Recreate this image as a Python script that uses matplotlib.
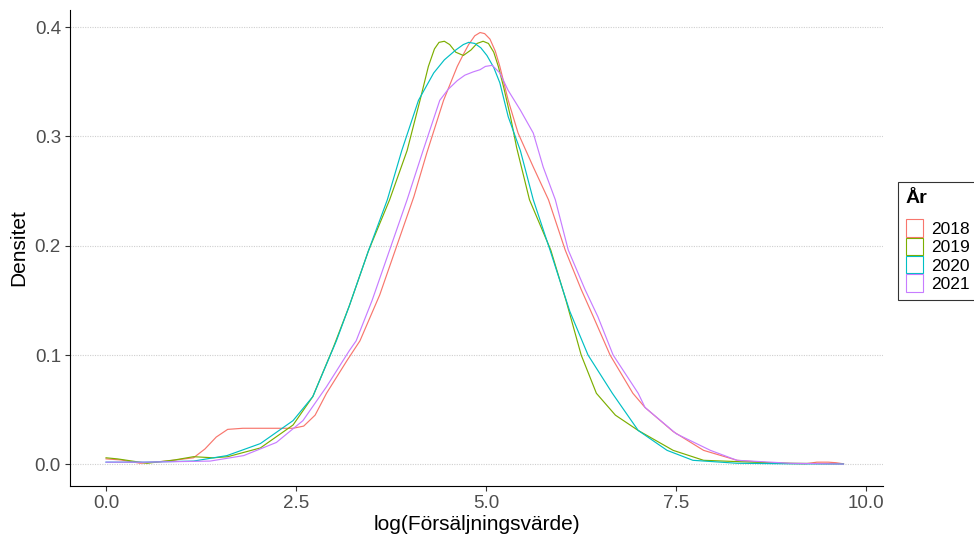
from matplotlib import pyplot as plt
from matplotlib.patches import Patch

plt.rcParams['font.family'] = ['Liberation Sans', 'DejaVu Sans']

years = ["2018", "2019", "2020", "2021"]
colors = ["#F8766D", "#7CAE00", "#00BFC4", "#C77CFF"]

# density curves (x = log value, y = density)
x_2018 = [0.0, 0.2, 0.45, 0.8, 1.15, 1.3, 1.45, 1.6, 1.8, 2.1, 2.46, 2.6, 2.75, 2.9, 3.17, 3.34, 3.6, 3.85,
          4.05, 4.22, 4.44, 4.62, 4.7, 4.77, 4.85, 4.92, 4.98, 5.05, 5.12, 5.18, 5.29, 5.42, 5.62, 5.82, 6.04,
          6.25, 6.41, 6.63, 6.93, 7.09, 7.46, 7.86, 8.3, 8.8, 9.2, 9.35, 9.5, 9.6, 9.7]
y_2018 = [0.005, 0.004, 0.001, 0.003, 0.006, 0.014, 0.025, 0.032, 0.033, 0.033, 0.033, 0.035, 0.045, 0.065,
          0.095, 0.113, 0.155, 0.205, 0.245, 0.285, 0.333, 0.364, 0.375, 0.384, 0.392, 0.395, 0.394, 0.389,
          0.378, 0.364, 0.333, 0.303, 0.272, 0.242, 0.196, 0.16, 0.135, 0.10, 0.065, 0.052, 0.03, 0.0128,
          0.0037, 0.001, 0.0005, 0.002, 0.002, 0.0015, 0.0005]

x_2019 = [0.0, 0.15, 0.54, 0.9, 1.15, 1.41, 1.6, 2.03, 2.46, 2.72, 2.99, 3.2, 3.45, 3.73, 3.96, 4.13, 4.24,
          4.32, 4.38, 4.45, 4.52, 4.6, 4.7, 4.8, 4.88, 4.96, 5.03, 5.1, 5.16, 5.23, 5.32, 5.40, 5.57, 5.85,
          6.05, 6.25, 6.45, 6.7, 7.0, 7.46, 7.86, 8.5, 9.0, 9.7]
y_2019 = [0.006, 0.005, 0.001, 0.004, 0.007, 0.006, 0.007, 0.015, 0.036, 0.062, 0.107, 0.145, 0.195, 0.242,
          0.287, 0.333, 0.364, 0.38, 0.386, 0.387, 0.384, 0.377, 0.374, 0.379, 0.385, 0.387, 0.385, 0.377,
          0.364, 0.345, 0.318, 0.29, 0.242, 0.196, 0.15, 0.10, 0.065, 0.045, 0.031, 0.0128, 0.0037, 0.002,
          0.001, 0.0005]

x_2020 = [0.0, 0.5, 1.15, 1.59, 2.03, 2.46, 2.72, 3.03, 3.2, 3.45, 3.70, 3.89, 4.11, 4.31, 4.45, 4.6, 4.7,
          4.77, 4.85, 4.93, 5.01, 5.1, 5.18, 5.29, 5.45, 5.62, 5.84, 6.1, 6.34, 6.66, 7.0, 7.38, 7.72, 8.3,
          9.0, 9.7]
y_2020 = [0.002, 0.002, 0.003, 0.008, 0.019, 0.040, 0.062, 0.113, 0.145, 0.195, 0.242, 0.287, 0.333, 0.358,
          0.37, 0.379, 0.384, 0.386, 0.385, 0.381, 0.374, 0.363, 0.349, 0.318, 0.287, 0.242, 0.196, 0.14,
          0.10, 0.065, 0.031, 0.0128, 0.0037, 0.001, 0.0005, 0.0003]

x_2021 = [0.0, 0.5, 1.37, 1.81, 2.24, 2.59, 2.9, 3.2, 3.29, 3.5, 3.75, 3.96, 4.17, 4.39, 4.5, 4.62, 4.72,
          4.83, 4.92, 4.99, 5.08, 5.18, 5.29, 5.45, 5.62, 5.75, 5.91, 6.08, 6.3, 6.47, 6.67, 7.0, 7.09, 7.5,
          7.95, 8.3, 9.0, 9.7]
y_2021 = [0.002, 0.002, 0.003, 0.008, 0.020, 0.040, 0.071, 0.104, 0.113, 0.15, 0.2, 0.242, 0.287, 0.333,
          0.343, 0.351, 0.356, 0.359, 0.361, 0.364, 0.365, 0.358, 0.342, 0.324, 0.303, 0.272, 0.242, 0.196,
          0.16, 0.135, 0.10, 0.065, 0.052, 0.028, 0.0128, 0.0037, 0.001, 0.0003]

curves = [(x_2018, y_2018), (x_2019, y_2019), (x_2020, y_2020), (x_2021, y_2021)]

fig = plt.figure(figsize=(9.74, 5.39), dpi=100)
ax = fig.add_axes([70 / 974, 53 / 539, 813 / 974, 476 / 539])

for (xs, ys), c in zip(curves, colors):
    ax.plot(xs, ys, color=c, lw=0.85)

ax.set_xlim(-0.474, 10.22)
ax.set_ylim(-0.0198, 0.4156)
ax.set_xticks([0.0, 2.5, 5.0, 7.5, 10.0])
ax.set_xticklabels(["0.0", "2.5", "5.0", "7.5", "10.0"])
ax.set_yticks([0.0, 0.1, 0.2, 0.3, 0.4])
ax.set_yticklabels(["0.0", "0.1", "0.2", "0.3", "0.4"])

ax.grid(axis='y', color='#cfcfcf', linestyle=(0, (1, 1.2)), lw=0.8)
ax.set_axisbelow(True)
for s in ['top', 'right']:
    ax.spines[s].set_visible(False)
for s in ['left', 'bottom']:
    ax.spines[s].set_linewidth(0.8)
ax.tick_params(length=3.5, width=0.8, color='#333333', labelsize=13.5, labelcolor='#4D4D4D', pad=3)

ax.set_xlabel("log(Försäljningsvärde)", fontsize=15, labelpad=2)
ax.set_ylabel("Densitet", fontsize=15, labelpad=5)

handles = [Patch(facecolor='none', edgecolor=c, lw=0.8) for c in colors]
leg = fig.legend(handles, years, title="År", loc='upper left', bbox_to_anchor=(898 / 974, 1 - 182 / 539),
                 fontsize=12.5, title_fontproperties={'weight': 'bold', 'size': 14},
                 frameon=True, fancybox=False, handlelength=1.0, handleheight=1.15, labelspacing=0.05,
                 handletextpad=0.45, borderpad=0.45, borderaxespad=0)
leg._legend_box.align = 'left'
leg._legend_box.sep = 9
leg.get_frame().set_edgecolor('black')
leg.get_frame().set_linewidth(0.8)

fig.savefig("out.png", dpi=100)
